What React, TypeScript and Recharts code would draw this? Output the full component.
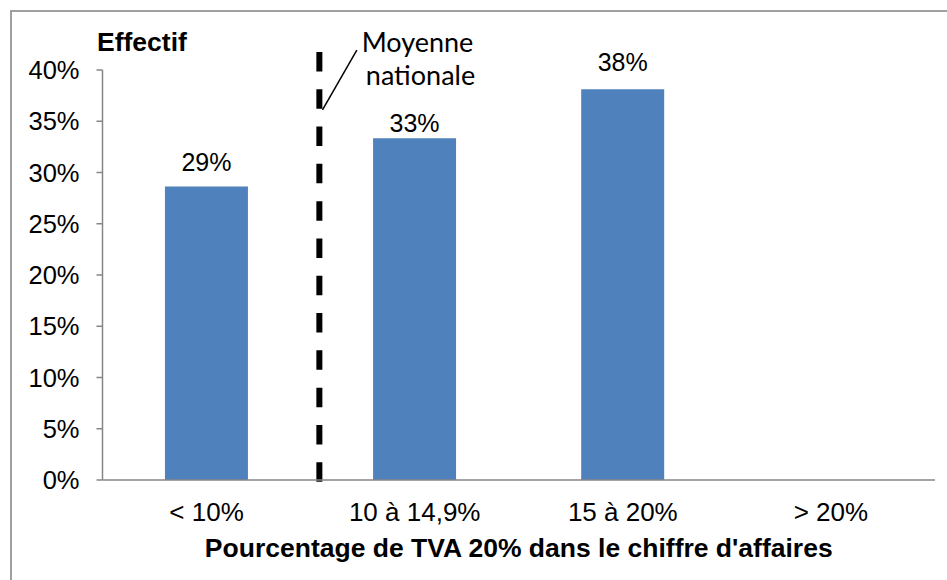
import React from 'react';
import { BarChart, Bar, XAxis, YAxis, ReferenceLine, LabelList, Customized } from 'recharts';

// ---- data ----
const CATEGORIES = ['< 10%', '10 à 14,9%', '15 à 20%', '> 20%'];
const VALUES: (number | null)[] = [0.2863, 0.3334, 0.3812, null];
const VALUE_LABELS = ['29%', '33%', '38%', ''];
const Y_TICKS = [0, 0.05, 0.1, 0.15, 0.2, 0.25, 0.3, 0.35, 0.4];
const BOUNDARY_TICKS = [0, 1, 2, 3, 4];
// national average position on the category-index scale (0..4)
const NATIONAL_AVG_POS = 1.042;
const NATIONAL_AVG_SPAN = [0.4176, -0.0024];
const LEADER_LINE = [
  { x: 1.057, y: 0.361 },
  { x: 1.222, y: 0.4195 },
];
const Y_TITLE = 'Effectif';
const X_TITLE = "Pourcentage de TVA 20% dans le chiffre d'affaires";
const ANNOTATION = ['Moyenne', 'nationale'];

// ---- style ----
const LABEL_GAPS = [15.5, 6.6, 18.6, 15];
const FONT = "'Liberation Sans', Arial, sans-serif";
const ANNOT_FONT = "Lato, 'Open Sans', sans-serif";
const AXIS_GRAY = '#868686';

const rows = CATEGORIES.map((c, i) => ({ cat: c, value: VALUES[i], pos: i + 0.5 }));

const renderLabel = (props: any) => {
  const { x, y, width, index } = props;
  const text = VALUE_LABELS[index];
  if (!text || x == null) return null;
  return (
    <text
      x={Number(x) + Number(width) / 2}
      y={Number(y) - LABEL_GAPS[index]}
      textAnchor="middle"
      fontFamily={FONT}
      fontSize={25}
      fill="#000"
    >
      {text}
    </text>
  );
};

const Texts = () => (
  <g>
    <text x={97} y={51} fontFamily={FONT} fontSize={26.5} fontWeight="bold" fill="#000">
      {Y_TITLE}
    </text>
    <text x={518.75} y={557} textAnchor="middle" fontFamily={FONT} fontSize={26.5} fontWeight="bold" fill="#000">
      {X_TITLE}
    </text>
    <text x={417.5} y={51.5} textAnchor="middle" fontFamily={ANNOT_FONT} fontSize={27} fill="#000">
      {ANNOTATION[0]}
    </text>
    <text x={420.5} y={85} textAnchor="middle" fontFamily={ANNOT_FONT} fontSize={27} fill="#000">
      {ANNOTATION[1]}
    </text>
  </g>
);

export default function App() {
  return (
    <div style={{ position: 'absolute', left: 0, top: 0, width: 947, height: 580, background: '#fff', overflow: 'hidden' }}>
      <div
        style={{
          position: 'absolute',
          left: 10,
          top: 10,
          width: 1000,
          height: 700,
          borderTop: '2px solid #a0a0a0',
          borderLeft: '2px solid #a0a0a0',
          boxSizing: 'border-box',
        }}
      />
      <div style={{ position: 'absolute', left: 0, top: 0 }}>
        <BarChart
          width={947}
          height={580}
          data={rows}
          margin={{ top: 70, right: 12, bottom: 59, left: 10 }}
          barCategoryGap="30%"
        >
          <YAxis
            width={92.5}
            domain={[0, 0.4]}
            ticks={Y_TICKS}
            type="number"
            tickFormatter={(v: number) => `${Math.round(v * 100)}%`}
            tickSize={6}
            tickMargin={17}
            axisLine={{ stroke: AXIS_GRAY, strokeWidth: 1.5 }}
            tickLine={{ stroke: AXIS_GRAY, strokeWidth: 1.5 }}
            tick={{ fill: '#000', fontSize: 25.5, fontFamily: FONT }}
            interval={0}
          />
          <XAxis
            xAxisId="a_num"
            dataKey="pos"
            type="number"
            domain={[0, 4]}
            ticks={BOUNDARY_TICKS}
            allowDataOverflow
            height={1}
            tick={false}
            tickSize={7}
            axisLine={{ stroke: AXIS_GRAY, strokeWidth: 1.5 }}
            tickLine={{ stroke: AXIS_GRAY, strokeWidth: 1.5 }}
          />
          <XAxis
            xAxisId="b_cat"
            dataKey="cat"
            height={40}
            axisLine={false}
            tickLine={false}
            tickSize={0}
            tickMargin={21.5}
            interval={0}
            tick={{ fill: '#000', fontSize: 26, fontFamily: FONT }}
          />
          <Bar dataKey="value" xAxisId="b_cat" fill="#4F81BD" isAnimationActive={false}>
            <LabelList dataKey="value" content={renderLabel} />
          </Bar>
          <ReferenceLine
            xAxisId="a_num"
            segment={[
              { x: NATIONAL_AVG_POS, y: NATIONAL_AVG_SPAN[0] },
              { x: NATIONAL_AVG_POS, y: NATIONAL_AVG_SPAN[1] },
            ]}
            stroke="#000"
            strokeWidth={6}
            strokeDasharray="19.5 17.8"
            ifOverflow="visible"
          />
          <ReferenceLine
            xAxisId="a_num"
            segment={LEADER_LINE}
            stroke="#000"
            strokeWidth={1.5}
            ifOverflow="visible"
          />
          <Customized component={Texts} />
        </BarChart>
      </div>
    </div>
  );
}
